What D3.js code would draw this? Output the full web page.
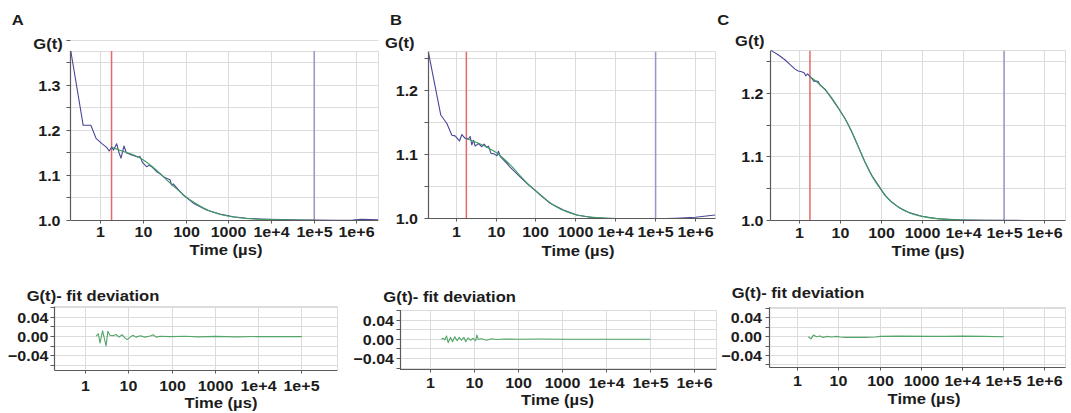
<!DOCTYPE html>
<html><head><meta charset="utf-8">
<script src="https://cdn.jsdelivr.net/npm/d3@7/dist/d3.min.js"></script>
<style>
body{margin:0;background:#fff;}
svg{display:block;}
text{font-family:"Liberation Sans",Arial,Helvetica,sans-serif;font-weight:bold;fill:#1c1c1c;}
</style>
</head><body>
<svg id="chart" width="1071" height="413"></svg>
<script>
// ---------------- DATA ----------------
const timeTicks = [1, 10, 100, 1000, 1e4, 1e5, 1e6];
const timeTickLabels = ["1", "10", "100", "1000", "1e+4", "1e+5", "1e+6"];
const gTickLabelsA = [1.0, 1.1, 1.2, 1.3];
const gTickLabelsBC = [1.0, 1.1, 1.2];
const devTickLabels = [-0.04, 0.00, 0.04];
const panelLetters = ["A", "B", "C"];
const fitStartTime = 1.8;   // red marker (µs)
const fitEndTime = 1e5;     // blue marker (µs)

// Panel A measured correlation
const dataA_t = [0.2, 0.39, 0.59, 0.78, 1.05, 1.38, 1.59, 1.81, 2.0, 2.37, 2.69, 2.99, 3.52, 3.98, 5.3, 6.3, 7.6, 8.3, 9.6, 11.9, 13.5, 15.6, 20.5, 25, 29.3, 36, 42, 46, 50, 86, 148, 302, 617, 1276, 2618, 5370, 15800, 50000, 1e5, 3.2e5, 8e5, 1.26e6, 2e6, 3.1e6];
const dataA_g = [1.376, 1.211, 1.211, 1.182, 1.171, 1.162, 1.154, 1.163, 1.156, 1.170, 1.150, 1.138, 1.165, 1.150, 1.145, 1.143, 1.140, 1.142, 1.128, 1.119, 1.122, 1.119, 1.108, 1.103, 1.097, 1.093, 1.090, 1.078, 1.081, 1.056, 1.038, 1.023, 1.014, 1.008, 1.0045, 1.003, 1.0015, 1.0005, 1.0003, 1.0002, 1.0005, 1.002, 1.0015, 1.001];
// Panel B measured correlation
const dataB_t = [0.2, 0.41, 0.58, 0.78, 0.94, 1.21, 1.39, 1.68, 2.03, 2.24, 2.47, 2.72, 2.99, 3.62, 4.41, 5.0, 5.87, 6.46, 7.41, 8.95, 10.5, 11.5, 12.7, 20.4, 21.7, 40, 59, 105, 227, 490, 1060, 2750, 8700, 31600, 1e5, 3.2e5, 1e6, 3.1e6];
const dataB_g = [1.260, 1.1615, 1.1486, 1.130, 1.129, 1.121, 1.131, 1.125, 1.124, 1.128, 1.115, 1.122, 1.113, 1.117, 1.112, 1.116, 1.111, 1.113, 1.102, 1.101, 1.098, 1.105, 1.097, 1.0836, 1.081, 1.065, 1.055, 1.042, 1.024, 1.0136, 1.0058, 1.0016, 1.0, 1.0, 1.0, 1.0008, 1.0022, 1.0058];
// Panel C measured correlation
const dataC_t = [0.2, 0.30, 0.44, 0.59, 0.78, 0.93, 1.13, 1.31, 1.42, 1.58, 1.81, 2.02, 2.30, 2.53, 2.88, 3.16, 4.2, 6.1, 8.9, 12.9, 18.9, 27.4, 39.8, 58, 85, 123, 180, 261, 457, 973, 2450, 7600, 31600, 1e5, 3.2e5, 1e6, 3.1e6];
const dataC_g = [1.2675, 1.2607, 1.2528, 1.245, 1.238, 1.235, 1.234, 1.232, 1.2275, 1.2306, 1.226, 1.223, 1.2185, 1.2195, 1.2185, 1.213, 1.2065, 1.192, 1.1765, 1.1607, 1.1395, 1.1158, 1.092, 1.071, 1.0553, 1.0395, 1.029, 1.021, 1.013, 1.0068, 1.0027, 1.001, 1.0005, 1.0002, 1.0001, 1.0, 0.9995];

// Fit curves
const fit_t = [1.82, 3.16, 5.62, 10, 15.8, 25.1, 39.8, 63.1, 100, 158, 251, 398, 631, 1000, 2000, 4000, 10000, 31600, 100000];
const fitA_g = [1.162, 1.154, 1.146, 1.134, 1.120, 1.103, 1.085, 1.068, 1.052, 1.039, 1.028, 1.019, 1.013, 1.009, 1.005, 1.003, 1.0015, 1.0005, 1.0];
const fitB_g = [1.125, 1.119, 1.112, 1.103, 1.093, 1.081, 1.067, 1.054, 1.043, 1.032, 1.023, 1.0155, 1.010, 1.0062, 1.003, 1.0013, 1.0004, 1.0001, 1.0];
const fitC_g = [1.226, 1.2135, 1.196, 1.172, 1.150, 1.122, 1.092, 1.067, 1.048, 1.032, 1.022, 1.0145, 1.0095, 1.0065, 1.0033, 1.0017, 1.0008, 1.0003, 1.0];

// Fit deviations
const devA_t = [1.73, 1.95, 2.14, 2.45, 2.63, 2.95, 3.24, 3.63, 4.27, 5.0, 5.9, 6.9, 8.1, 9.1, 10.7, 12.3, 14.5, 18.2, 23.4, 30.9, 36.3, 42.7, 52.5, 89, 200, 400, 1000, 3160, 1e4, 31600, 1e5];
const devA_v = [0.001, 0.006, -0.013, 0.012, 0.0, -0.019, 0.011, 0.003, 0.002, 0.0045, -0.001, 0.004, -0.003, -0.006, -0.001, 0.003, -0.001, 0.002, -0.001, 0.0015, 0.004, -0.001, 0.001, 0.0, 0.0008, -0.0005, 0.0005, -0.0004, 0.0003, 0.0, 0.0];
const devB_t = [1.74, 1.9, 2.07, 2.26, 2.47, 2.79, 3.09, 3.5, 3.95, 4.4, 4.97, 5.6, 6.2, 7.0, 7.95, 9.1, 10.4, 11.1, 11.9, 14.2, 18.4, 24, 31, 48, 100, 316, 1000, 3160, 1e4, 1e5];
const devB_v = [0.0, 0.002, -0.001, 0.007, -0.007, 0.004, -0.005, 0.005, -0.003, 0.004, -0.002, 0.004, -0.005, 0.003, -0.002, 0.002, -0.003, 0.009, 0.0, 0.001, -0.002, 0.001, -0.0005, 0.0005, 0.0, 0.0005, 0.0, 0.0, 0.0, 0.0];
const devC_t = [1.81, 2.1, 2.4, 2.88, 3.47, 4.17, 5.0, 6.6, 8.8, 10.7, 14.1, 20.4, 42.7, 76, 100, 275, 1780, 3800, 1e4, 31600, 1e5];
const devC_v = [0.0, -0.0045, 0.0035, 0.0, 0.0014, -0.0014, 0.0007, -0.0007, 0.0007, -0.0007, -0.0014, -0.0014, -0.0014, -0.0007, 0.0007, 0.0014, 0.0007, 0.0007, 0.0014, 0.0007, 0.0];

// ---------------- STYLE / LAYOUT ----------------
const SX = 1.07;                // horizontal stretch of the lettering
const FS_TICK = 15, FS_TITLE = 15.5, FS_LETTER = 15.5;
const COL = {data: "#47479a", fit: "#3f9b5e", dev: "#55a56a", red: "#e46a6a", blue: "#9696c8",
             grid: "#dcdcdc", axis: "#5a5a5a"};
const svg = d3.select("#chart");
const zip = (a, b) => a.map((v, i) => [v, b[i]]);
const snap = v => Math.round(v - 0.5) + 0.5;

function addText(x, y, str, size, anchor) {
  svg.append("text")
    .attr("transform", `translate(${x},${y}) scale(${SX},1)`)
    .attr("text-anchor", anchor || "start")
    .style("font-size", size + "px")
    .text(str);
}

let clipId = 0;
function drawPanel(p) {
  const x = d3.scaleLog().domain(p.xDom).range([p.l, p.r]);
  const y = d3.scaleLinear().domain(p.yDom).range([p.b, p.t]);
  const g = svg.append("g");
  const id = "clip" + (clipId++);
  g.append("clipPath").attr("id", id).append("rect")
    .attr("x", p.l).attr("y", p.t - 1).attr("width", p.r - p.l + 1).attr("height", p.b - p.t + 1);

  // frame + grid
  g.append("rect").attr("x", snap(p.l)).attr("y", snap(p.t))
    .attr("width", snap(p.r) - snap(p.l)).attr("height", snap(p.b) - snap(p.t))
    .attr("fill", "none").attr("stroke", COL.grid);
  const xt = timeTicks.filter(v => v >= p.xDom[0] && v <= p.xDom[1]);
  g.selectAll(".vg").data(xt).join("line")
    .attr("x1", d => snap(x(d))).attr("x2", d => snap(x(d))).attr("y1", p.t).attr("y2", p.b)
    .attr("stroke", COL.grid);
  g.selectAll(".hg").data(p.yGrid).join("line")
    .attr("x1", p.l).attr("x2", p.r).attr("y1", d => snap(y(d))).attr("y2", d => snap(y(d)))
    .attr("stroke", COL.grid);

  const plot = g.append("g").attr("clip-path", `url(#${id})`);
  (p.vlines || []).forEach(v => {
    plot.append("line").attr("x1", x(v.t)).attr("x2", x(v.t)).attr("y1", p.t).attr("y2", p.b)
      .attr("stroke", v.c).attr("stroke-width", 1.5);
  });
  p.series.forEach(s => {
    const line = d3.line().x(d => x(d[0])).y(d => y(d[1]))
      .curve(s.smooth ? d3.curveMonotoneX : d3.curveLinear);
    plot.append("path").datum(zip(s.t, s.v)).attr("d", line)
      .attr("fill", "none").attr("stroke", s.c).attr("stroke-width", s.w || 1.1)
      .attr("stroke-linejoin", "round");
  });

  // axes
  const ya = g.append("g").attr("transform", `translate(${snap(p.l)},0)`)
    .call(d3.axisLeft(y).tickValues(p.yGrid).tickSize(4).tickSizeOuter(0).offset(0)
      .tickFormat(v => p.yLabels.some(l => Math.abs(l - v) < 1e-9) ? d3.format(p.yFmt)(v) : ""));
  const xa = g.append("g").attr("transform", `translate(0,${snap(p.b)})`)
    .call(d3.axisBottom(x).tickValues(xt).tickSize(3).tickSizeOuter(0).offset(0)
      .tickFormat(v => timeTickLabels[timeTicks.indexOf(v)]));
  [ya, xa].forEach(a => {
    a.attr("font-family", null).attr("font-size", null);
    a.select(".domain").attr("stroke", COL.axis).attr("stroke-width", 1.2);
    a.selectAll(".tick line").attr("stroke", COL.axis);
    a.selectAll("text").style("font-size", FS_TICK + "px")
      .attr("transform", `scale(${SX},1)`);
  });
  ya.selectAll(".tick").attr("transform", d => `translate(0,${snap(y(d))})`);
  xa.selectAll(".tick").attr("transform", d => `translate(${snap(x(d))},0)`);
  ya.selectAll("text").attr("x", -p.yGap / SX).attr("dy", "0.35em");
  xa.selectAll("text").attr("y", p.xGap).attr("dy", "0.72em");
}

const xFull = [0.2, 3.16e6];
const gGrid = (top) => d3.range(0, Math.round((top - 1) / 0.05) + 1).map(i => +(1 + i * 0.05).toFixed(2));
const devGrid = [-0.06, -0.04, -0.02, 0, 0.02, 0.04, 0.06];

// top panels
drawPanel({l: 70.8, r: 378.3, t: 51, b: 220.3, xDom: xFull, yDom: [1.0, 1.376],
  yGrid: gGrid(1.376), yLabels: gTickLabelsA, yFmt: ".1f", yGap: 10, xGap: 6,
  vlines: [{t: fitStartTime, c: COL.red}, {t: fitEndTime, c: COL.blue}],
  series: [{t: dataA_t, v: dataA_g, c: COL.data}, {t: fit_t, v: fitA_g, c: COL.fit, smooth: true}]});
drawPanel({l: 428.3, r: 715.4, t: 51.7, b: 218.7, xDom: xFull, yDom: [1.0, 1.26],
  yGrid: gGrid(1.26), yLabels: gTickLabelsBC, yFmt: ".1f", yGap: 10.5, xGap: 8,
  vlines: [{t: fitStartTime, c: COL.red}, {t: fitEndTime, c: COL.blue}],
  series: [{t: dataB_t, v: dataB_g, c: COL.data}, {t: fit_t, v: fitB_g, c: COL.fit, smooth: true}]});
drawPanel({l: 770.9, r: 1065.4, t: 50.7, b: 220.5, xDom: xFull, yDom: [1.0, 1.267],
  yGrid: gGrid(1.267), yLabels: gTickLabelsBC, yFmt: ".1f", yGap: 7, xGap: 7,
  vlines: [{t: fitStartTime, c: COL.red}, {t: fitEndTime, c: COL.blue}],
  series: [{t: dataC_t, v: dataC_g, c: COL.data}, {t: fit_t, v: fitC_g, c: COL.fit, smooth: true}]});

// deviation panels
drawPanel({l: 54.3, r: 337.3, t: 306.7, b: 370, xDom: [0.187, 6.6e5], yDom: [-0.069, 0.062],
  yGrid: devGrid, yLabels: devTickLabels, yFmt: ".2f", yGap: 6, xGap: 10,
  series: [{t: devA_t, v: devA_v, c: COL.dev}]});
drawPanel({l: 400, r: 716.3, t: 310, b: 369, xDom: [0.197, 3.16e6], yDom: [-0.062, 0.061],
  yGrid: devGrid, yLabels: devTickLabels, yFmt: ".2f", yGap: 6.5, xGap: 8,
  series: [{t: devB_t, v: devB_v, c: COL.dev}]});
drawPanel({l: 769.3, r: 1065.5, t: 307.3, b: 367.3, xDom: [0.204, 3.16e6], yDom: [-0.065, 0.0626],
  yGrid: devGrid, yLabels: devTickLabels, yFmt: ".2f", yGap: 7.5, xGap: 8,
  series: [{t: devC_t, v: devC_v, c: COL.dev}]});

// titles
addText(11.7, 25, panelLetters[0], FS_LETTER);
addText(390, 25, panelLetters[1], FS_LETTER);
addText(717.3, 25, panelLetters[2], FS_LETTER);
addText(33.3, 48.5, "G(t)", FS_TITLE);
addText(385, 47.5, "G(t)", FS_TITLE);
addText(735, 45.5, "G(t)", FS_TITLE);
addText(226, 255, "Time (µs)", FS_TITLE, "middle");
addText(578, 255.5, "Time (µs)", FS_TITLE, "middle");
addText(928, 256, "Time (µs)", FS_TITLE, "middle");
addText(26.7, 300.5, "G(t)- fit deviation", FS_TITLE);
addText(383.3, 301.5, "G(t)- fit deviation", FS_TITLE);
addText(731.7, 297.5, "G(t)- fit deviation", FS_TITLE);
addText(221, 408, "Time (µs)", FS_TITLE, "middle");
addText(557.5, 404.5, "Time (µs)", FS_TITLE, "middle");
addText(924, 403.5, "Time (µs)", FS_TITLE, "middle");
</script>
</body></html>
